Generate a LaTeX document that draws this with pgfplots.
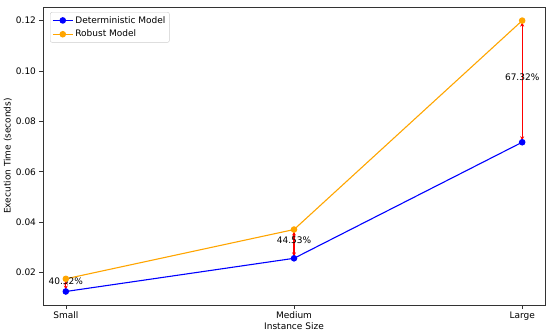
\documentclass[border=0pt]{standalone}
\usepackage{fontspec}
\setmainfont{DejaVu Sans}
\usepackage{pgfplots}
\pgfplotsset{compat=1.18}
\usetikzlibrary{arrows.meta}
\definecolor{mplorange}{HTML}{FFA500}
\begin{document}
\begin{tikzpicture}[font=\fontsize{9bp}{10.8bp}\selectfont]
\begin{axis}[
  scale only axis, width=502bp, height=298bp,
  xmin=-0.1, xmax=2.1, ymin=0.00712, ymax=0.1254,
  xtick={0,1,2}, xticklabels={Small,Medium,Large},
  ytick={0.02,0.04,0.06,0.08,0.10,0.12},
  yticklabel style={/pgf/number format/.cd, fixed, fixed zerofill, precision=2, assume math mode=true},
  scaled y ticks=false,
  tick align=outside, tick pos=left, major tick length=3.5bp,
  axis line style={line width=0.6bp, black!80},
  every tick/.style={black!80, line width=0.6bp},
  xlabel={Instance Size}, ylabel={Execution Time (seconds)},
  xlabel style={at={(axis description cs:0.5,-0.07)}, anchor=center},
  ylabel style={at={(axis description cs:-0.07,0.5)}, anchor=center},
  legend style={at={(axis description cs:0.014,0.983)}, anchor=north west, draw=black!20, rounded corners=2pt, font=\fontsize{9bp}{10.8bp}\selectfont, row sep=1.5bp, inner xsep=2bp, inner ysep=2bp},
  legend image code/.code={\draw[#1] (0bp,0bp) -- (20bp,0bp); \draw[#1, mark repeat=2, mark phase=2] plot coordinates {(0bp,0bp) (10bp,0bp) (20bp,0bp)};},
  legend cell align=left,
  clip=false,
]
\addplot[blue, line width=1.1bp, mark=*, mark size=2.7bp] coordinates {(0,0.01248) (1,0.02565) (2,0.07172)};
\addlegendentry{Deterministic Model}
\addplot[mplorange, line width=1.1bp, mark=*, mark size=2.7bp] coordinates {(0,0.01751) (1,0.03707) (2,0.12000)};
\addlegendentry{Robust Model}
\draw[red, line width=1.1bp, {Stealth[length=4bp,width=4bp]}-{Stealth[length=4bp,width=4bp]}, shorten <=2bp, shorten >=2bp] (axis cs:0,0.01751) -- (axis cs:0,0.01248);
\draw[red, line width=1.1bp, {Stealth[length=4bp,width=4bp]}-{Stealth[length=4bp,width=4bp]}, shorten <=2bp, shorten >=2bp] (axis cs:1,0.03707) -- (axis cs:1,0.02565);
\draw[red, line width=1.1bp, {Stealth[length=4bp,width=4bp]}-{Stealth[length=4bp,width=4bp]}, shorten <=2bp, shorten >=2bp] (axis cs:2,0.12000) -- (axis cs:2,0.07172);
\node[yshift=4bp] at (axis cs:0,0.015) {40.32\%};
\node[yshift=4bp] at (axis cs:1,0.03136) {44.53\%};
\node[yshift=4bp] at (axis cs:2,0.09586) {67.32\%};
\end{axis}
\path ([xshift=-43bp,yshift=-31bp]current axis.south west) rectangle ([xshift=5bp,yshift=7bp]current axis.north east);
\end{tikzpicture}
\end{document}
